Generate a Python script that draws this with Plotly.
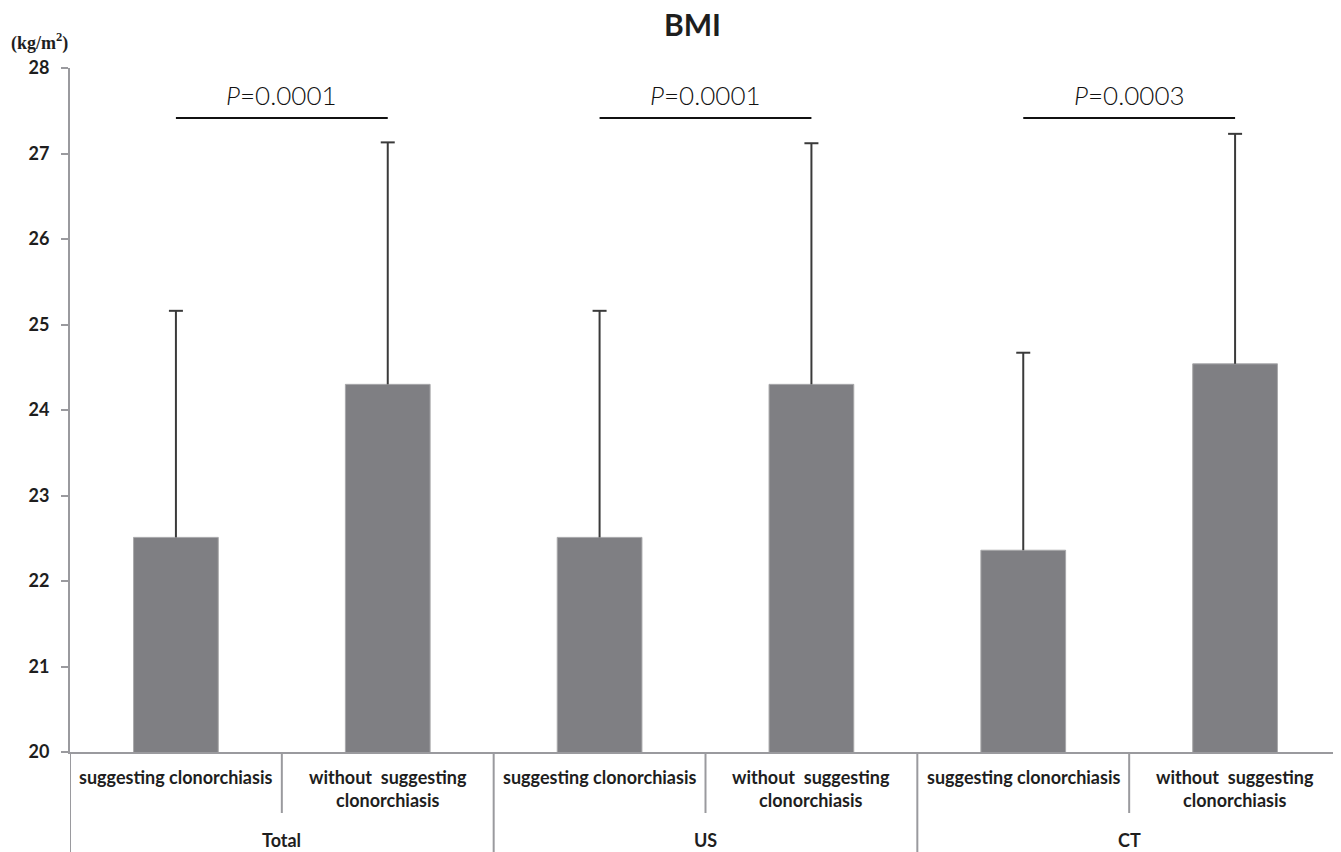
import plotly.graph_objects as go

# ---- data ----
groups = ["Total", "US", "CT"]
subgroups = ["suggesting clonorchiasis", "without\u00a0 suggesting<br>clonorchiasis"]
means = [22.51, 24.30, 22.51, 24.30, 22.36, 24.54]
sds = [2.65, 2.83, 2.65, 2.82, 2.31, 2.69]
p_values = ["0.0001", "0.0001", "0.0003"]
y_ticks = [20, 21, 22, 23, 24, 25, 26, 27, 28]

categories = [(g, s) for g in groups for s in subgroups]
xpos = list(range(len(categories)))
tops = [m + s for m, s in zip(means, sds)]

# page has an 8px body margin, so the figure is sized to fit the window
OFF = 8
W, H = 1341 - OFF, 852 - OFF
ML, MR, MT, MB = 70 - OFF, 0, 68 - OFF, 100
PW = W - ML - MR
PH = H - MT - MB

FONT = "Lato, 'Open Sans', sans-serif"
AXIS_COL = "#9a9a9e"
BAR_COL = "#7f7f83"
TXT = "#1e1e1e"

fig = go.Figure()
fig.add_trace(go.Bar(
    x=xpos, y=means, width=0.4,
    marker=dict(color=BAR_COL, line=dict(color="#a8a8aa", width=1)),
    error_y=dict(type="data", array=sds, arrayminus=[0] * len(sds), symmetric=False,
                 color="#3a3a3a", thickness=2, width=0),
    showlegend=False, hoverinfo="skip",
))
# error bar caps
fig.add_trace(go.Scatter(
    x=xpos, y=tops, mode="markers",
    marker=dict(symbol="line-ew", size=10, line=dict(color="#3a3a3a", width=2)),
    showlegend=False, hoverinfo="skip",
))

shapes = []
annotations = []

def py(pix_below):
    """paper y for a pixel distance below the plot bottom"""
    return -pix_below / PH

# y axis extension below the plot and group dividers
for b in [-0.5, 1.5, 3.5]:
    shapes.append(dict(type="line", xref="x", yref="paper", x0=b, x1=b, y0=0, y1=py(100),
                       line=dict(color=AXIS_COL, width=2)))
# inner dividers
for b in [0.5, 2.5, 4.5]:
    shapes.append(dict(type="line", xref="x", yref="paper", x0=b, x1=b, y0=0, y1=py(61),
                       line=dict(color=AXIS_COL, width=2)))

# category labels
for i, (g, s) in enumerate(categories):
    annotations.append(dict(xref="x", yref="paper", x=i, y=py(12), yanchor="top",
                            text=s, showarrow=False, align="center",
                            font=dict(family=FONT, size=18, color=TXT, weight="bold")))
for gi, g in enumerate(groups):
    annotations.append(dict(xref="x", yref="paper", x=gi * 2 + 0.5, y=py(88), yanchor="middle",
                            text=g, showarrow=False,
                            font=dict(family=FONT, size=18, color=TXT, weight="bold")))

# P-value brackets
for gi, p in enumerate(p_values):
    a, b = gi * 2, gi * 2 + 1
    shapes.append(dict(type="line", xref="x", yref="y", x0=a, x1=b, y0=27.415, y1=27.415,
                       line=dict(color="#111111", width=2)))
    annotations.append(dict(xref="x", yref="y", x=(a + b) / 2, y=27.68, yanchor="middle",
                            text="<i>P</i>=" + p, showarrow=False,
                            font=dict(family=FONT, size=26, color="#111111", weight=300)))

# unit label
annotations.append(dict(xref="paper", yref="paper", x=-30 / PW, y=1 + 26 / PH,
                        xanchor="center", yanchor="middle", showarrow=False,
                        text="(kg/m<sup>2</sup>)",
                        font=dict(family="'Liberation Serif', serif", size=18, color=TXT,
                                  weight="bold")))

# title
annotations.append(dict(xref="paper", yref="paper", x=(692 - OFF - ML) / PW, y=1 + (68 - 24) / PH,
                        xanchor="center", yanchor="middle", showarrow=False, text="BMI",
                        font=dict(family=FONT, size=30, color=TXT, weight="bold")))

fig.update_layout(
    width=W, height=H,
    margin=dict(l=ML, r=MR, t=MT, b=MB),
    paper_bgcolor="white", plot_bgcolor="white",
    xaxis=dict(range=[-0.5, 5.5], showticklabels=False, ticks="", showgrid=False,
               zeroline=False, showline=True, linecolor=AXIS_COL, linewidth=2, fixedrange=True),
    yaxis=dict(range=[20, 28], tickvals=y_ticks, ticks="outside", ticklen=7,
               tickcolor=AXIS_COL, tickwidth=2, showgrid=False, zeroline=False,
               showline=True, linecolor=AXIS_COL, linewidth=2, ticklabelstandoff=8,
               tickfont=dict(family=FONT, size=18, color=TXT, weight="bold")),
    shapes=shapes, annotations=annotations,
)

fig.write_html("out.html")
